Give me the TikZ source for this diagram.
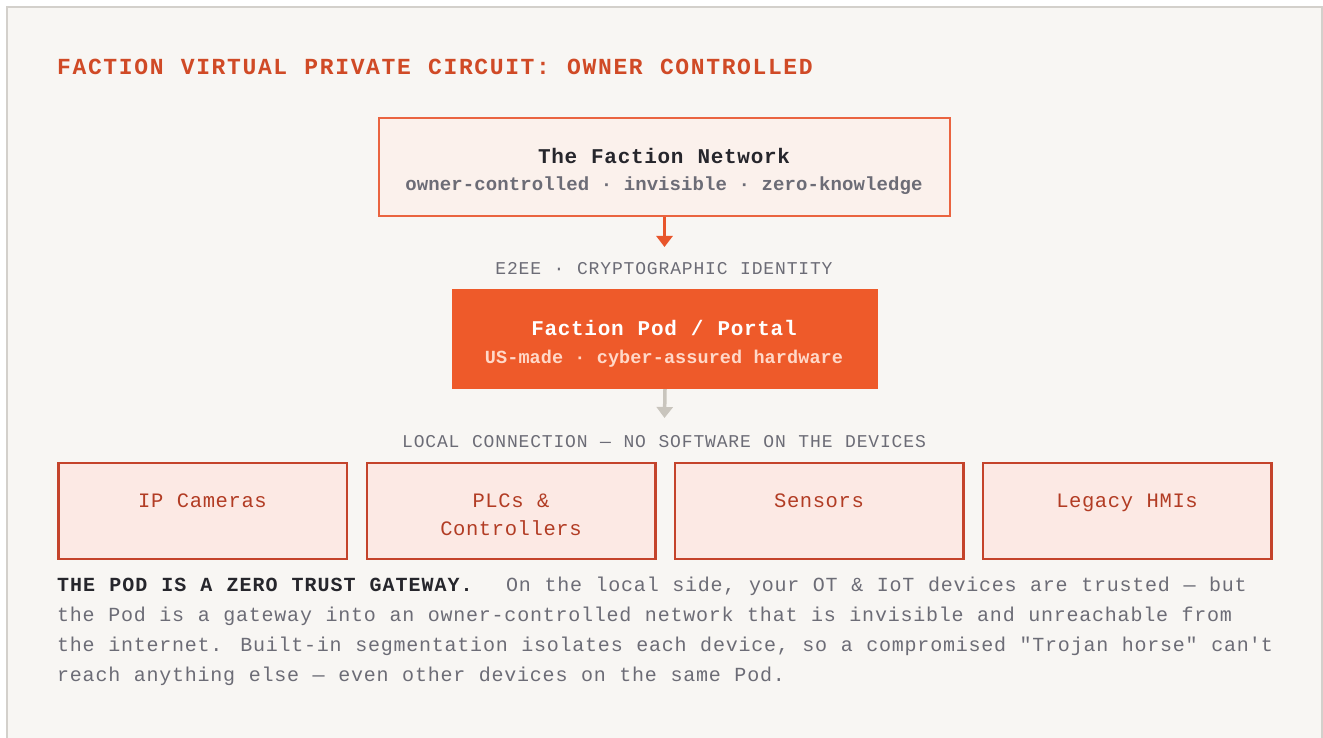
\documentclass[tikz,border=0pt]{standalone}
\usepackage{fontspec}
\usetikzlibrary{arrows.meta}
\newfontfamily\fTitle[LetterSpace=7.1,WordSpace=1.118]{Liberation Mono}
\newfontfamily\fHead[LetterSpace=3.3,WordSpace=1.055]{Liberation Mono}
\newfontfamily\fSub[LetterSpace=0.5,WordSpace=1.008]{Liberation Mono}
\newfontfamily\fLab[LetterSpace=4.7,WordSpace=1.078]{Liberation Mono}
\newfontfamily\fDev[LetterSpace=3,WordSpace=1.05]{Liberation Mono}
\newfontfamily\fBody[LetterSpace=3.85,WordSpace=1.064]{Liberation Mono}
\newfontfamily\fBodyB[LetterSpace=5,WordSpace=1.083]{Liberation Mono}
\definecolor{bgc}{HTML}{F8F6F3}
\definecolor{framec}{HTML}{D3D0CB}
\definecolor{titlec}{HTML}{D04A26}
\definecolor{netc}{HTML}{EA6440}
\definecolor{netfill}{HTML}{FBF1EC}
\definecolor{darkc}{HTML}{26262C}
\definecolor{grayc}{HTML}{6C6C76}
\definecolor{arrowc}{HTML}{E8552B}
\definecolor{podc}{HTML}{EE5A2A}
\definecolor{podsub}{HTML}{FFD8C8}
\definecolor{garrowc}{HTML}{C9C5BD}
\definecolor{devc}{HTML}{C4432B}
\definecolor{devfill}{HTML}{FCE9E4}
\definecolor{devtext}{HTML}{B23C24}
\begin{document}
\begin{tikzpicture}[x=1pt,y=-1pt,
  netbox/.style={rectangle, draw=netc, fill=netfill, line width=2.5pt, inner sep=0pt},
  podbox/.style={rectangle, fill=podc, inner sep=0pt},
  devbox/.style={rectangle, draw=devc, fill=devfill, line width=2.5pt, inner sep=0pt, minimum width=288.5pt, minimum height=96pt},
  txt/.style={inner sep=0pt, anchor=base},
  devtxt/.style={txt, font=\fDev\fontsize{20.5}{28}\selectfont, text=devtext},
  bodytxt/.style={inner sep=0pt, anchor=base west, font=\fBody\fontsize{20}{30}\selectfont, text=grayc},
  conn/.style={line width=3.5pt, -{Triangle[width=16pt,length=11pt]}}
]
\useasboundingbox (0,0) rectangle (1323,738);
\fill[white] (0,0) rectangle (1323,738);
\draw[draw=framec, fill=bgc, line width=2pt] (7,7) rectangle (1322,760);

% title
\node[inner sep=0pt, anchor=base west, font=\fTitle\bfseries\fontsize{23}{28}\selectfont, text=titlec] (title) at (57,75) {FACTION VIRTUAL PRIVATE CIRCUIT: OWNER CONTROLLED};

% network box
\node[netbox, minimum width=571pt, minimum height=98pt] (net) at (664.5,167) {};
\node[txt, font=\fHead\bfseries\fontsize{21}{28}\selectfont, text=darkc] (nett) at (664,164) {The Faction Network};
\node[txt, font=\fSub\bfseries\fontsize{19}{28}\selectfont, text=grayc] (nets) at (664,191) {owner-controlled · invisible · zero-knowledge};

% arrow 1
\coordinate (a1) at (664.5,247);
\draw[conn, draw=arrowc, fill=arrowc] (net.south) -- (a1);
\node[txt, font=\fLab\fontsize{18}{28}\selectfont, text=grayc] (e2ee) at (664,275) {E2EE · CRYPTOGRAPHIC IDENTITY};

% pod
\node[podbox, minimum width=426pt, minimum height=100pt] (pod) at (665,339) {};
\node[txt, font=\fHead\bfseries\fontsize{21}{28}\selectfont, text=white] (podt) at (664,335) {Faction Pod / Portal};
\node[txt, font=\fSub\bfseries\fontsize{18.5}{28}\selectfont, text=podsub] (pods) at (664,363) {US-made · cyber-assured hardware};

% arrow 2
\coordinate (a2) at (664.5,418);
\draw[conn, draw=garrowc, fill=garrowc] (pod.south) -- (a2);
\node[txt, font=\fLab\fontsize{18}{28}\selectfont, text=grayc] (local) at (664,447) {LOCAL CONNECTION — NO SOFTWARE ON THE DEVICES};

% devices
\node[devbox] (d1) at (202.5,511) {};
\node[devbox] (d2) at (511,511) {};
\node[devbox] (d3) at (819,511) {};
\node[devbox] (d4) at (1127,511) {};
\node[devtxt] (d1t) at (202.5,507) {IP Cameras};
\node[devtxt] (d2t) at (511,507) {PLCs \&};
\node[devtxt] (d2u) at (511,535) {Controllers};
\node[devtxt] (d3t) at (819,507) {Sensors};
\node[devtxt] (d4t) at (1127,507) {Legacy HMIs};

% body paragraph
\node[bodytxt, text=darkc, font=\fBodyB\bfseries\fontsize{20}{30}\selectfont] (b1a) at (57,591) {THE POD IS A ZERO TRUST GATEWAY.};
\node[bodytxt] (b1b) at (506,591) {On the local side, your OT \& IoT devices are trusted — but};
\node[bodytxt] (b2) at (57,621) {the Pod is a gateway into an owner-controlled network that is invisible and unreachable from};
\node[bodytxt] (b3) at (57,651) {the internet. Built-in segmentation isolates each device, so a compromised "Trojan horse" can\textquotesingle t};
\node[bodytxt] (b4) at (57,681) {reach anything else — even other devices on the same Pod.};
\end{tikzpicture}
\end{document}
